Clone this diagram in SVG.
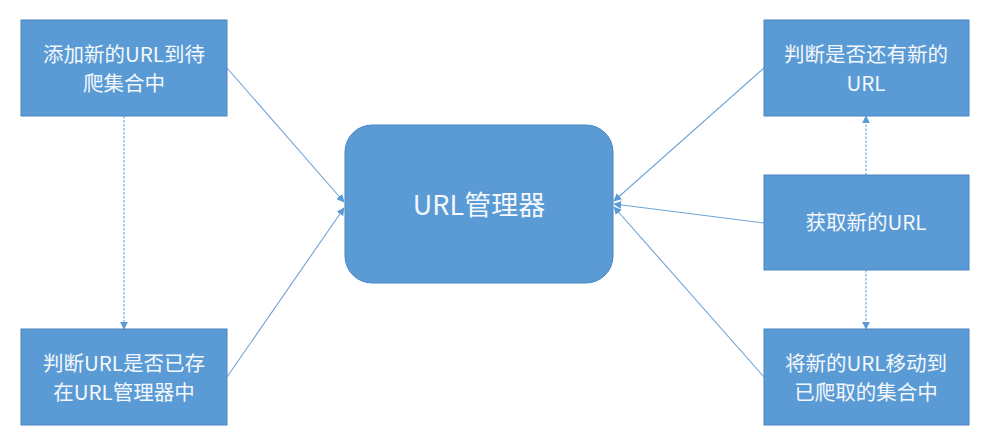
<svg xmlns="http://www.w3.org/2000/svg" width="987" height="438" viewBox="0 0 987 438">
<defs>
<style>
.box{fill:#5B9BD5;stroke:#4A86C0;stroke-width:1}
.t{fill:#F4F8FC;font-family:"Noto Sans CJK SC","Noto Sans",sans-serif;font-size:20.5px;text-anchor:middle}
.big{font-size:27px}
.ln{stroke:#6FA3D8;stroke-width:1.1;fill:none}
.dash{stroke-dasharray:2.5 1.5}
</style>
<marker id="ah" viewBox="0 0 10 10" refX="9" refY="5" markerWidth="8" markerHeight="8" markerUnits="userSpaceOnUse" orient="auto">
<path d="M0,0 L10,5 L0,10 Z" fill="#5B9BD5"/>
</marker>
</defs>
<rect width="987" height="438" fill="#FFFFFF"/>
<g id="connectors">
<line class="ln" x1="227" y1="68" x2="344" y2="202" marker-end="url(#ah)"/>
<line class="ln" x1="227" y1="377" x2="344" y2="208" marker-end="url(#ah)"/>
<line class="ln" x1="764" y1="68" x2="614" y2="201" marker-end="url(#ah)"/>
<line class="ln" x1="764" y1="223" x2="614" y2="204" marker-end="url(#ah)"/>
<line class="ln" x1="764" y1="377" x2="614" y2="207" marker-end="url(#ah)"/>
<line class="ln dash" x1="124" y1="116" x2="124" y2="329" marker-end="url(#ah)"/>
<line class="ln dash" x1="866" y1="175" x2="866" y2="116" marker-end="url(#ah)"/>
<line class="ln dash" x1="866" y1="270" x2="866" y2="329" marker-end="url(#ah)"/>
</g>
<g id="n_add">
<rect class="box" x="21" y="20" width="206" height="96"/>
<text class="t" x="124" y="62">添加新的URL到待</text>
<text class="t" x="124" y="91">爬集合中</text>
</g>
<g id="n_check">
<rect class="box" x="21" y="329" width="206" height="96"/>
<text class="t" x="124" y="371">判断URL是否已存</text>
<text class="t" x="124" y="400">在URL管理器中</text>
</g>
<g id="n_manager">
<rect class="box" x="345" y="125" width="268" height="158" rx="27" ry="27"/>
<text class="t big" x="479" y="215">URL管理器</text>
</g>
<g id="n_hasnew">
<rect class="box" x="764" y="20" width="205" height="96"/>
<text class="t" x="866" y="62">判断是否还有新的</text>
<text class="t" x="866" y="91">URL</text>
</g>
<g id="n_get">
<rect class="box" x="764" y="175" width="205" height="95"/>
<text class="t" x="866" y="230">获取新的URL</text>
</g>
<g id="n_move">
<rect class="box" x="764" y="329" width="205" height="96"/>
<text class="t" x="866" y="371">将新的URL移动到</text>
<text class="t" x="866" y="400">已爬取的集合中</text>
</g>
</svg>
